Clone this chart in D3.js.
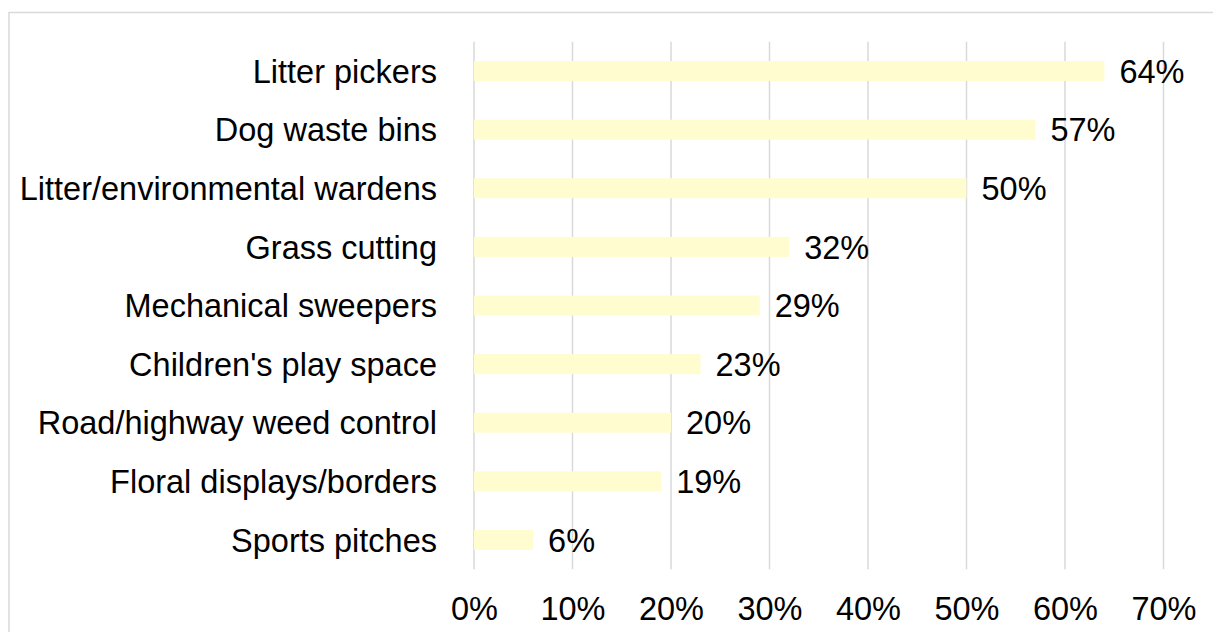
<!DOCTYPE html>
<html>
<head>
<meta charset="utf-8">
<script src="https://cdn.jsdelivr.net/npm/d3@7"></script>
<style>
  html, body { margin: 0; padding: 0; background: #ffffff; }
  svg { display: block; }
  text { font-family: "Liberation Sans", Arial, sans-serif; fill: #000; }
</style>
</head>
<body>
<svg id="chart" width="1213" height="632"></svg>
<script>
// Share of respondents per service
const categories = [
  "Litter pickers",
  "Dog waste bins",
  "Litter/environmental wardens",
  "Grass cutting",
  "Mechanical sweepers",
  "Children's play space",
  "Road/highway weed control",
  "Floral displays/borders",
  "Sports pitches"
];
const values = [64, 57, 50, 32, 29, 23, 20, 19, 6];
const tickValues = [0, 10, 20, 30, 40, 50, 60, 70];

const svg = d3.select("#chart");
const W = 1213, H = 632;
const FONT = 32.5;

// outer frame (light grey)
svg.append("rect")
  .attr("x", 9).attr("y", 12.5)
  .attr("width", W + 20).attr("height", H + 20)
  .attr("fill", "none")
  .attr("stroke", "#d9d9d9")
  .attr("stroke-width", 1.5);

const plot = { left: 474, right: 1163.5, top: 41.7, bottom: 569.3 };

const x = d3.scaleLinear().domain([0, 70]).range([plot.left, plot.right]);
const y = d3.scaleBand().domain(categories).range([plot.top, plot.bottom]).paddingInner(0.659).paddingOuter(0.33);

// vertical gridlines
svg.append("g").selectAll("line")
  .data(tickValues)
  .join("line")
  .attr("x1", d => x(d)).attr("x2", d => x(d))
  .attr("y1", plot.top).attr("y2", plot.bottom)
  .attr("stroke", "#d9d9d9")
  .attr("stroke-width", 1.5);

// bars
svg.append("g").selectAll("rect")
  .data(values)
  .join("rect")
  .attr("x", x(0))
  .attr("y", (d, i) => y(categories[i]))
  .attr("width", d => x(d) - x(0))
  .attr("height", y.bandwidth())
  .attr("fill", "#fffcd0");

// value labels
svg.append("g").selectAll("text")
  .data(values)
  .join("text")
  .attr("x", d => x(d) + 15)
  .attr("y", (d, i) => y(categories[i]) + y.bandwidth() / 2)
  .attr("dy", "0.36em")
  .attr("font-size", FONT)
  .text(d => d + "%");

// category labels
svg.append("g").selectAll("text")
  .data(categories)
  .join("text")
  .attr("x", plot.left - 37)
  .attr("y", d => y(d) + y.bandwidth() / 2)
  .attr("dy", "0.36em")
  .attr("text-anchor", "end")
  .attr("font-size", FONT)
  .text(d => d);

// x axis tick labels
const xAxis = d3.axisBottom(x)
  .tickValues(tickValues)
  .tickSize(0)
  .tickPadding(0)
  .tickFormat(d => d + "%");
const gx = svg.append("g")
  .attr("transform", `translate(0, ${plot.bottom})`)
  .call(xAxis);
gx.select(".domain").remove();
gx.selectAll("text")
  .attr("font-size", FONT)
  .attr("font-family", "Liberation Sans, Arial, sans-serif")
  .attr("fill", "#000")
  .attr("dy", null)
  .attr("y", 50.5);
</script>
</body>
</html>
